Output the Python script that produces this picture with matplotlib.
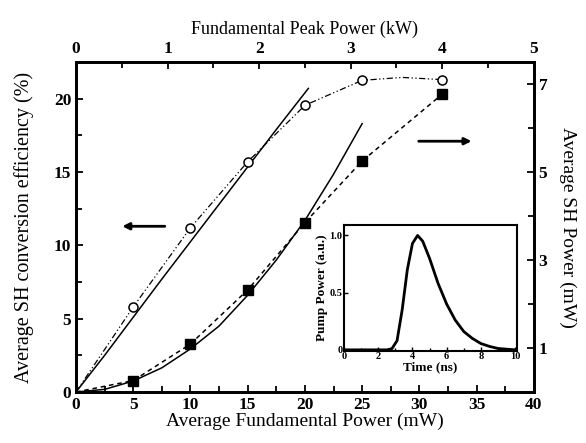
import numpy as np
import matplotlib
matplotlib.use("Agg")
import matplotlib.pyplot as plt
from matplotlib.ticker import MultipleLocator, FixedLocator

plt.rcParams['font.family'] = ['Liberation Serif', 'DejaVu Serif']
plt.rcParams['font.weight'] = 'bold'

# measured data
fund_power = [5, 10, 15, 20, 25, 32]
efficiency = [5.8, 11.2, 15.7, 19.55, 21.25, 21.3]
sh_power = [0.26, 1.09, 2.32, 3.85, 5.25, 6.77]

# guide curves
eff_guide_x = [0, 5, 10, 15, 20, 25, 28.5, 32]
eff_guide_y = [0, 5.8, 11.2, 15.7, 19.55, 21.25, 21.45, 21.3]
sh_guide_x = [0, 5, 10, 15, 20, 25, 32]
sh_guide_y = [0, 0.26, 1.09, 2.32, 3.85, 5.25, 6.77]

# theory curves
eff_fit_x = [0, 2.5, 5, 7.5, 10, 12.5, 15, 17.5, 20.3]
eff_fit_y = [0, 2.5, 5.1, 7.7, 10.25, 12.8, 15.35, 17.9, 20.7]
sh_fit_x = [0, 2.5, 5, 7.5, 10, 12.5, 15, 17.5, 20, 22.5, 25]
sh_fit_y = [0, 0.06, 0.25, 0.55, 0.98, 1.5, 2.2, 3.0, 3.9, 4.95, 6.1]

# inset pump pulse
pulse_t = [0, 2.5, 2.8, 3.1, 3.4, 3.7, 4.0, 4.3, 4.6, 5.0, 5.5, 6.0, 6.5, 7.0, 7.5, 8.0, 8.5, 9.0, 10]
pulse_p = [0, 0, 0.01, 0.08, 0.35, 0.7, 0.93, 1.0, 0.95, 0.8, 0.58, 0.4, 0.26, 0.16, 0.1, 0.055, 0.03, 0.012, 0]

fig = plt.figure(figsize=(5.86, 4.43), dpi=100)
ax = fig.add_axes([0.1297, 0.1151, 0.7813, 0.7449])
ax_r = ax.twinx()
ax_t = ax.twiny()

ax.plot(eff_fit_x, eff_fit_y, color='black', lw=1.1)
ax.plot(eff_guide_x, eff_guide_y, color='black', lw=0.9, ls=(0, (5, 2, 1, 2, 1, 2)))
ax.plot(fund_power, efficiency, 'o', ms=6.5, mfc='white', mec='black', mew=1.1)

ax_r.plot(sh_fit_x, sh_fit_y, color='black', lw=1.1)
ax_r.plot(sh_guide_x, sh_guide_y, color='black', lw=1.1, ls=(0, (3, 2.5)))
ax_r.plot(fund_power, sh_power, 's', ms=6.5, mfc='black', mec='black')

ax.set_xlim(0, 40)
ax.set_ylim(0, 22.5)
ax_r.set_ylim(0, 7.5)
ax_t.set_xlim(0, 5)

ax.xaxis.set_major_locator(MultipleLocator(5))
ax.xaxis.set_minor_locator(MultipleLocator(2.5))
ax.yaxis.set_major_locator(MultipleLocator(5))
ax.yaxis.set_minor_locator(MultipleLocator(2.5))
ax_t.xaxis.set_major_locator(MultipleLocator(1))
ax_t.xaxis.set_minor_locator(MultipleLocator(0.5))
ax_r.yaxis.set_major_locator(FixedLocator([1, 3, 5, 7]))
ax_r.yaxis.set_minor_locator(FixedLocator([2, 4, 6]))

for a in (ax, ax_r, ax_t):
    a.tick_params(which='major', direction='in', length=5, width=1.3, labelsize=12.5)
    a.tick_params(which='minor', direction='in', length=4, width=1.3)
    for s in a.spines.values():
        s.set_linewidth(1.8)

ax.set_xlabel('Average Fundamental Power (mW)', fontsize=14, fontweight='normal', labelpad=0)
ax.set_ylabel('Average SH conversion efficiency (%)', fontsize=14.5, fontweight='normal', labelpad=14)
ax_t.set_xlabel('Fundamental Peak Power (kW)', fontsize=13, fontweight='normal', labelpad=5)
ax_r.set_ylabel('Average SH Power (mW)', fontsize=14, fontweight='normal', rotation=270, labelpad=21)

ax.annotate('', xy=(3.8, 11.3), xytext=(8.0, 11.3),
            arrowprops=dict(arrowstyle='-|>', color='black', lw=2, mutation_scale=10))
ax.annotate('', xy=(34.8, 17.1), xytext=(29.7, 17.1),
            arrowprops=dict(arrowstyle='-|>', color='black', lw=2, mutation_scale=10))

# inset
ins = fig.add_axes([0.587, 0.2077, 0.295, 0.284])
ins.plot(pulse_t, pulse_p, color='black', lw=2)
ins.set_xlim(0, 10.1)
ins.set_ylim(-0.01, 1.09)
ins.set_xticks([0, 2, 4, 6, 8, 10])
ins.xaxis.set_minor_locator(MultipleLocator(1))
ins.set_yticks([0, 0.5, 1.0])
ins.set_yticklabels(['0', '0.5', '1.0'])
ins.tick_params(which='major', direction='in', length=3, width=1, labelsize=7.5, pad=1)
ins.tick_params(which='minor', direction='in', length=2, width=1)
for s in ins.spines.values():
    s.set_linewidth(1.5)
ins.set_xlabel('Time (ns)', fontsize=9.5, fontweight='bold', labelpad=0)
ins.set_ylabel('Pump Power (a.u.)', fontsize=9.5, fontweight='bold', labelpad=1)

fig.savefig('out.png', dpi=100)
